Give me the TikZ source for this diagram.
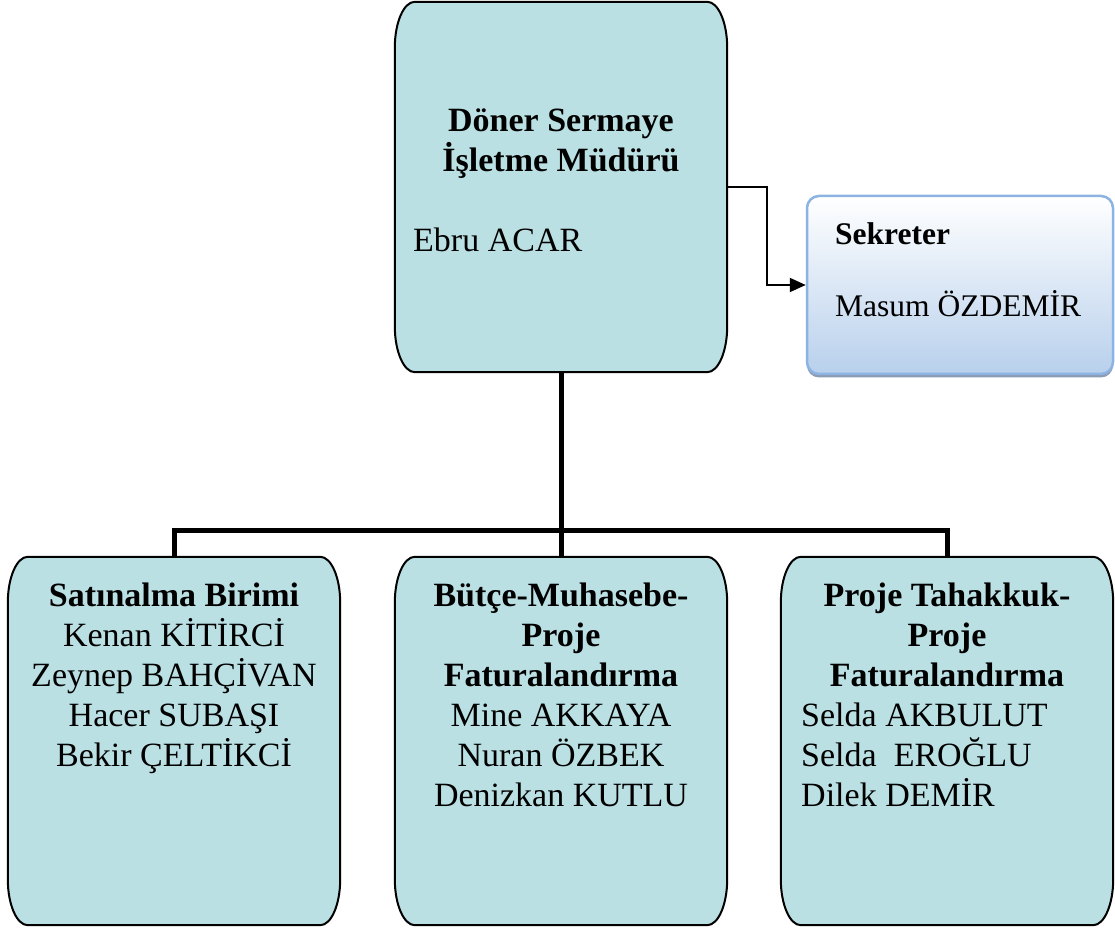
\documentclass[tikz,border=0pt]{standalone}
\usepackage{fontspec}
\setmainfont{Liberation Serif}
\usetikzlibrary{arrows.meta,shadows,calc}
\definecolor{boxfill}{RGB}{186,224,227}
\definecolor{secborder}{RGB}{141,179,226}
\definecolor{secbottom}{RGB}{184,208,236}
\definecolor{secshadow}{RGB}{140,155,180}
% elliptical-corner box drawn around an (invisible) node
\newcommand\orgshape[1]{%
  \draw[orgline] ([xshift=20pt]#1.north west) -- ([xshift=-20pt]#1.north east)
    arc[start angle=90,end angle=0,x radius=20pt,y radius=46pt]
    -- ([yshift=46pt]#1.south east)
    arc[start angle=0,end angle=-90,x radius=20pt,y radius=46pt]
    -- ([xshift=20pt]#1.south west)
    arc[start angle=270,end angle=180,x radius=20pt,y radius=46pt]
    -- ([yshift=-46pt]#1.north west)
    arc[start angle=180,end angle=90,x radius=20pt,y radius=46pt]
    -- cycle;}
\begin{document}
\begin{tikzpicture}[x=1pt,y=1pt,
  every node/.style={inner sep=0pt, font=\fontsize{34}{40}\selectfont},
  boxnode/.style={rectangle, minimum width=332pt, minimum height=368pt, draw=none},
  orgline/.style={draw=black, line width=2pt, fill=boxfill},
  title/.style={anchor=base, font=\fontsize{34}{40}\selectfont\bfseries},
  line/.style={anchor=base},
  lline/.style={anchor=base west},
  sectext/.style={anchor=base west, font=\fontsize{31.5}{38}\selectfont},
  bus/.style={line width=5pt},
  secbox/.style={rectangle, rounded corners=12pt, minimum width=306pt, minimum height=178pt,
    draw=secborder, line width=2.5pt, top color=white, bottom color=secbottom,
    drop shadow={shadow xshift=0pt, shadow yshift=-3.5pt, fill=secshadow, opacity=1}},
  secarrow/.style={line width=2pt, -{Triangle[length=16pt,width=14pt]}}
]
\useasboundingbox (0,0) rectangle (1115,928);

% box placeholders
\node[boxnode, minimum height=370pt] (top) at (561,741) {};
\node[boxnode] (left) at (174,187) {};
\node[boxnode] (mid) at (561,187) {};
\node[boxnode] (right) at (947,187) {};
\node[secbox] (sec) at (960,643) {};

% connectors (drawn first, boxes cover ends)
\draw[bus] (top.south) -- (mid.north);
\draw[bus] (left.north) -- ++(0,26) -| (right.north);
\draw[secarrow] (top.east) -- ++(40,0) |- (sec.west);

\orgshape{top}
\orgshape{left}
\orgshape{mid}
\orgshape{right}

% top box text
\node[title] (t1) at (561,796) {Döner Sermaye};
\node[title] (t2) at (561,756) {İşletme Müdürü};
\node[lline] (t3) at (413,676) {Ebru ACAR};

% secretary
\node[sectext, font=\fontsize{31.5}{38}\selectfont\bfseries] (s1) at (835,683) {Sekreter};
\node[sectext] (s2) at (835,611) {Masum ÖZDEMİR};

% left box
\node[title] (l1) at (174,321) {Satınalma Birimi};
\node[line] (l2) at (174,281) {Kenan KİTİRCİ};
\node[line] (l3) at (174,241) {Zeynep BAHÇİVAN};
\node[line] (l4) at (174,201) {Hacer SUBAŞI};
\node[line] (l5) at (174,161) {Bekir ÇELTİKCİ};

% middle box
\node[title] (m1) at (561,321) {Bütçe-Muhasebe-};
\node[title] (m2) at (561,281) {Proje};
\node[title] (m3) at (561,241) {Faturalandırma};
\node[line] (m4) at (561,201) {Mine AKKAYA};
\node[line] (m5) at (561,161) {Nuran ÖZBEK};
\node[line] (m6) at (561,121) {Denizkan KUTLU};

% right box
\node[title] (r1) at (947,321) {Proje Tahakkuk-};
\node[title] (r2) at (947,281) {Proje};
\node[title] (r3) at (947,241) {Faturalandırma};
\node[lline] (r4) at (801,201) {Selda AKBULUT};
\node[lline] (r5) at (801,161) {Selda\ \ EROĞLU};
\node[lline] (r6) at (801,121) {Dilek DEMİR};
\end{tikzpicture}
\end{document}
